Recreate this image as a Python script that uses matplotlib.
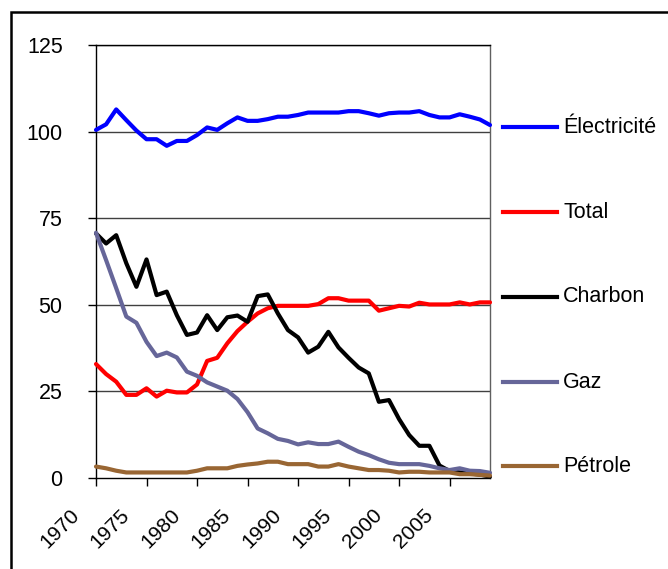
import matplotlib
matplotlib.use("Agg")
import matplotlib.pyplot as plt
from matplotlib.lines import Line2D
from matplotlib.patches import Rectangle
from matplotlib.transforms import ScaledTranslation

plt.rcParams['font.family'] = ['Liberation Sans', 'DejaVu Sans']

years = list(range(1970, 2010))

electricite = [100.5, 102.1, 106.4, 103.3, 100.3, 97.8, 97.8, 95.9, 97.3, 97.3,
               99.0, 101.2, 100.5, 102.4, 104.1, 103.1, 103.1, 103.6, 104.3, 104.3,
               104.8, 105.5, 105.5, 105.5, 105.5, 105.9, 105.9, 105.3, 104.6, 105.3,
               105.5, 105.5, 105.9, 104.8, 104.1, 104.1, 105.0, 104.3, 103.5, 101.9]
total = [32.9, 30.0, 27.8, 24.0, 24.0, 25.9, 23.5, 25.2, 24.7, 24.7,
         27.0, 33.8, 34.7, 38.9, 42.4, 45.1, 47.5, 49.0, 49.7, 49.7,
         49.7, 49.7, 50.2, 51.9, 51.9, 51.2, 51.2, 51.2, 48.3, 49.0,
         49.7, 49.5, 50.6, 50.1, 50.1, 50.1, 50.7, 50.1, 50.7, 50.7]
charbon = [70.6, 67.7, 70.1, 62.0, 55.2, 63.1, 52.8, 53.8, 47.0, 41.3,
           42.0, 47.0, 42.7, 46.4, 46.9, 45.1, 52.5, 53.0, 47.5, 42.7,
           40.6, 36.2, 37.9, 42.2, 37.7, 34.7, 31.9, 30.2, 22.0, 22.5,
           17.0, 12.4, 9.3, 9.3, 3.6, 2.0, 1.6, 1.3, 1.0, 0.4]
gaz = [70.8, 62.9, 54.8, 46.6, 44.8, 39.3, 35.2, 36.2, 34.8, 30.7,
       29.5, 27.6, 26.4, 25.2, 22.8, 19.0, 14.3, 12.9, 11.3, 10.7,
       9.7, 10.3, 9.8, 9.8, 10.5, 9.0, 7.6, 6.6, 5.4, 4.4,
       4.0, 4.0, 4.0, 3.5, 2.8, 2.3, 2.8, 2.1, 2.0, 1.5]
petrole = [3.3, 2.8, 2.1, 1.6, 1.6, 1.6, 1.6, 1.6, 1.6, 1.6,
           2.1, 2.8, 2.8, 2.8, 3.5, 3.9, 4.2, 4.7, 4.7, 4.0,
           4.0, 4.0, 3.3, 3.3, 4.0, 3.3, 2.8, 2.3, 2.3, 2.1,
           1.6, 1.8, 1.8, 1.6, 1.6, 1.6, 1.1, 1.1, 0.9, 0.7]

series_names = ['Électricité', 'Total', 'Charbon', 'Gaz', 'Pétrole']
series_values = [electricite, total, charbon, gaz, petrole]
series_colors = ['#0000FF', '#FF0000', '#000000', '#666699', '#996633']

y_ticks = [0, 25, 50, 75, 100, 125]
x_ticks = [1970, 1975, 1980, 1985, 1990, 1995, 2000, 2005]

W, H = 668, 569
fig = plt.figure(figsize=(W / 100, H / 100), dpi=100)
ax = fig.add_axes([96 / W, 1 - 478 / H, (490 - 96) / W, (478 - 45) / H])

for name, vals, col in zip(series_names, series_values, series_colors):
    ax.plot(years, vals, color=col, lw=3.0, solid_joinstyle='round',
            solid_capstyle='round', zorder=3, clip_on=False)

ax.set_xlim(1970, 2009)
ax.set_ylim(0, 125)
ax.set_yticks(y_ticks)
ax.set_yticklabels([str(v) for v in y_ticks])
ax.set_xticks(x_ticks)
ax.set_xticklabels([str(v) for v in x_ticks], rotation=45, ha='right', va='top')

for v in y_ticks[1:]:
    ax.axhline(v, color='#404040', lw=1.0, zorder=1)

for side in ['left', 'bottom', 'top']:
    ax.spines[side].set_color('black')
    ax.spines[side].set_linewidth(1.0)
ax.spines['right'].set_color('#606060')
ax.spines['right'].set_linewidth(1.0)

ax.tick_params(axis='y', direction='out', length=6, width=1, pad=18,
               labelsize=15.5, colors='black')
ax.tick_params(axis='x', direction='out', length=6, width=1, pad=14,
               labelsize=15, colors='black')
for lab in ax.get_xticklabels():
    lab.set_transform(lab.get_transform() + ScaledTranslation(-0.13, 0, fig.dpi_scale_trans))

# legend
legend_y = [127, 212, 297, 382, 466]
for name, col, yy in zip(series_names, series_colors, legend_y):
    fy = 1 - yy / H
    fig.add_artist(Line2D([503 / W, 557 / W], [fy, fy], color=col, lw=3.0,
                          transform=fig.transFigure))
    fig.text(563 / W, fy, name, fontsize=15.5, va='center', ha='left')

# outer border
fig.add_artist(Rectangle((11 / W, -0.5), 2.0, 0.5 + 1 - 12 / H, fill=False,
                         edgecolor='black', lw=1.8, transform=fig.transFigure))

fig.savefig('out.png', dpi=100)
